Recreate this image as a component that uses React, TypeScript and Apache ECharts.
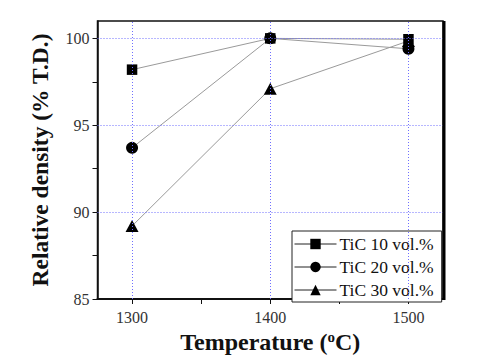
import React, { useEffect, useRef } from "react";
import * as echarts from "echarts";

const temperatures = [1300, 1400, 1500];
const tic10 = [98.2, 100, 99.95];
const tic20 = [93.7, 100, 99.4];
const tic30 = [89.2, 97.1, 99.85];
const seriesNames = ["TiC 10 vol.%", "TiC 20 vol.%", "TiC 30 vol.%"];
const yMajor = [85, 90, 95, 100];
const yMinor = [87.5, 92.5, 97.5];
const xMajor = [1300, 1400, 1500];
const xMinor = [1350, 1450];
const yGrid = [90, 95, 100];
const xGrid = [1300, 1400, 1500];

const FONT = "Liberation Serif";

export default function App() {
  const ref = useRef<HTMLDivElement>(null);
  useEffect(() => {
    if (!ref.current) return;
    const chart = echarts.init(ref.current, undefined, { renderer: "svg" });
    const mk = (vals: number[]) => temperatures.map((t, i) => [t, vals[i]]);
    const symbols = ["rect", "circle", "triangle"];
    const sizes: any[] = [10.5, 12, [13, 12]];
    const datas = [tic10, tic20, tic30];
    const gridLineStyle = { color: "#6f6fff", type: [1, 2] as any, width: 1 };
    const L = 97.5, T = 21, R = 443, B = 299;
    chart.setOption({
      animation: false,
      textStyle: { fontFamily: FONT },
      grid: { left: L, top: T, width: R - L, height: B - T, show: true, borderColor: "#111", borderWidth: 1.5 },
      xAxis: {
        type: "value",
        min: 1275,
        max: 1525,
        splitLine: { show: false },
        axisLine: { lineStyle: { color: "#111", width: 2 } },
        axisTick: { customValues: [...xMajor, ...xMinor], length: 5, lineStyle: { color: "#111" } },
        axisLabel: { customValues: xMajor, formatter: (v: number) => String(v), color: "#333", fontSize: 16, fontFamily: FONT, margin: 10 },
        name: "{a|Temperature (}{s|o}{a|C)}",
        nameLocation: "middle",
        nameGap: 29,
        nameTextStyle: {
          rich: {
            a: { fontFamily: FONT, fontSize: 24, fontWeight: "bold", color: "#111" },
            s: { fontFamily: FONT, fontSize: 15, fontWeight: "bold", color: "#111", padding: [0, 0, 10, 0] },
          },
        },
      },
      yAxis: {
        type: "value",
        min: 85,
        max: 101,
        splitLine: { show: false },
        axisLine: { show: true, lineStyle: { color: "#111", width: 1.5 } },
        axisTick: { show: true, customValues: [...yMajor, ...yMinor], length: 5, lineStyle: { color: "#111" } },
        axisLabel: { customValues: yMajor, color: "#333", fontSize: 16, fontFamily: FONT, margin: 8 },
        name: "Relative density (% T.D.)",
        nameLocation: "middle",
        nameGap: 46,
        nameTextStyle: { fontFamily: FONT, fontSize: 23.5, fontWeight: "bold", color: "#111" },
      },
      legend: {
        left: 292,
        top: 231,
        orient: "vertical",
        width: 150,
        itemWidth: 42,
        itemHeight: 13,
        itemGap: 5,
        padding: [4, 8, 3, 2],
        backgroundColor: "#fff",
        borderColor: "#222",
        borderWidth: 1,
        borderRadius: 0,
        data: seriesNames,
        lineStyle: { color: "#222", width: 1 },
        itemStyle: { color: "#000", borderWidth: 0 },
        textStyle: { fontFamily: FONT, fontSize: 17.5, color: "#111", padding: [0, 0, 0, -2] },
      },
      graphic: [
        { type: "line", z: 100, shape: { x1: R + 1, y1: T, x2: R + 1, y2: B + 1 }, style: { stroke: "#000", lineWidth: 3 } },
      ],
      series: [
        {
          type: "line",
          name: "_grid",
          data: [],
          silent: true,
          z: 1,
          markLine: {
            silent: true,
            symbol: "none",
            label: { show: false },
            lineStyle: gridLineStyle,
            data: [...yGrid.map((v) => ({ yAxis: v })), ...xGrid.map((v) => ({ xAxis: v }))],
          },
        },
        ...seriesNames.map((n, i) => ({
          type: "line",
          name: n,
          data: mk(datas[i]),
          symbol: symbols[i],
          symbolSize: sizes[i],
          z: 3,
          itemStyle: { color: "#000", borderWidth: 0 },
          lineStyle: { color: "#9a9a9a", width: 1 },
        })),
      ],
    });
    return () => chart.dispose();
  }, []);
  return <div ref={ref} style={{ position: "fixed", left: 0, top: 0, width: 503, height: 362, background: "#fff" }} />;
}
